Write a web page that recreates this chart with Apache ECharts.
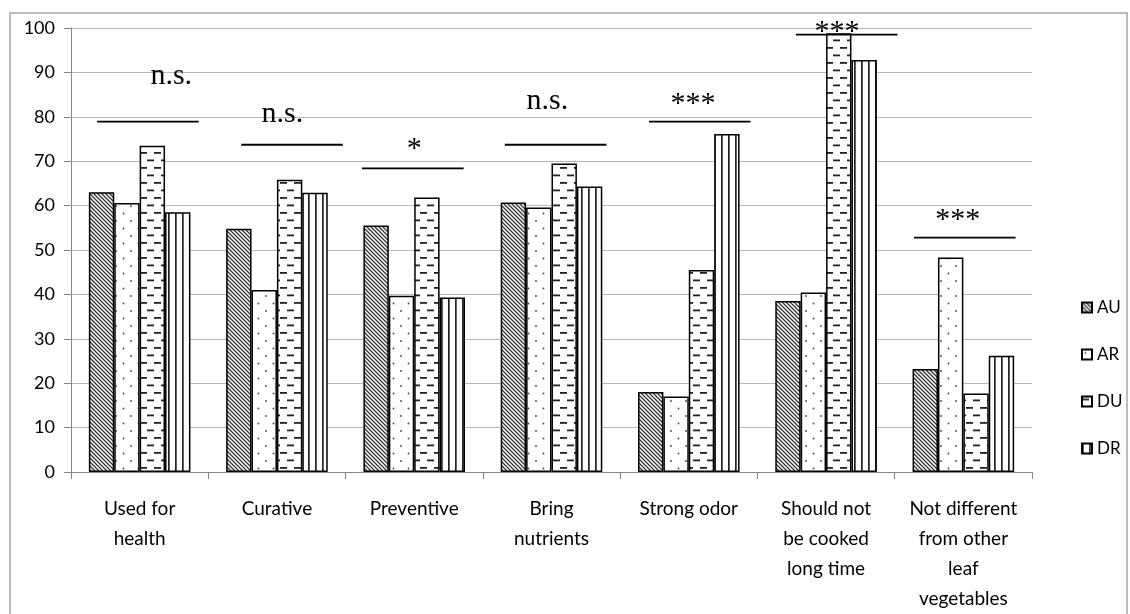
<!DOCTYPE html>
<html>
<head>
<meta charset="utf-8">
<script src="https://cdn.jsdelivr.net/npm/echarts@6/dist/echarts.min.js"></script>
<style>
html,body{margin:0;padding:0;background:#fff;}
#chart{width:1130px;height:614px;}
</style>
</head>
<body>
<div id="chart"></div>
<script>
// ---- data ----
const categories = [
  "Used for\nhealth",
  "Curative",
  "Preventive",
  "Bring\nnutrients",
  "Strong odor",
  "Should not\nbe cooked\nlong time",
  "Not different\nfrom other\nleaf\nvegetables"
];
const seriesNames = ["AU", "AR", "DU", "DR"];
const valuesAU = [63.0, 54.8, 55.5, 60.7, 18.0, 38.5, 23.2];
const valuesAR = [60.6, 41.0, 39.7, 59.6, 17.0, 40.4, 48.3];
const valuesDU = [73.5, 65.8, 61.8, 69.5, 45.5, 98.8, 17.7];
const valuesDR = [58.5, 62.9, 39.3, 64.3, 76.1, 92.8, 26.2];
const yTicks = [0, 10, 20, 30, 40, 50, 60, 70, 80, 90, 100];

// significance annotations (data coordinates: value level, category-axis offset)
const sigLabels = ["n.s.", "n.s.", "*", "n.s.", "***", "***", "***"];
const sigLineLevel = [78.9, 73.7, 68.4, 73.7, 78.9, 98.5, 52.8];
const sigTextLevel = [89.2, 80.6, 72.8, 83.5, 82.9, 99.0, 56.7];
const sigLineCenter = [0.06, 0.11, -0.01, 0.03, 0.08, 0.15, 0.01];
const sigTextCenter = [0.23, 0.04, 0.0, -0.03, 0.03, 0.08, -0.04];

// ---- patterns ----
function makeCanvas(w, h, draw) {
  const c = document.createElement('canvas');
  c.width = w; c.height = h;
  const ctx = c.getContext('2d');
  ctx.fillStyle = '#fff';
  ctx.fillRect(0, 0, w, h);
  draw(ctx);
  return c;
}
const patAU = makeCanvas(4, 4, ctx => {
  ctx.strokeStyle = '#333';
  ctx.lineWidth = 1.3;
  ctx.beginPath();
  ctx.moveTo(-1, -1); ctx.lineTo(5, 5);
  ctx.moveTo(-1, 3); ctx.lineTo(1, 5);
  ctx.moveTo(3, -1); ctx.lineTo(5, 1);
  ctx.stroke();
});
const patAR = makeCanvas(15, 15, ctx => {
  ctx.fillStyle = '#444';
  ctx.beginPath(); ctx.arc(3.5, 3.5, 0.9, 0, Math.PI * 2); ctx.fill();
  ctx.beginPath(); ctx.arc(11, 11, 0.9, 0, Math.PI * 2); ctx.fill();
});
const patDU = makeCanvas(14, 15, ctx => {
  ctx.fillStyle = '#222';
  ctx.fillRect(0, 2, 7, 1.8);
  ctx.fillRect(7, 9.5, 7, 1.8);
});
const patDR = makeCanvas(7, 4, ctx => {
  ctx.fillStyle = '#222';
  ctx.fillRect(0, 0, 1.7, 4);
});
const patterns = [patAU, patAR, patDU, patDR];
const allValues = [valuesAU, valuesAR, valuesDU, valuesDR];

const chart = echarts.init(document.getElementById('chart'), null, { renderer: 'canvas' });

const barSeries = seriesNames.map((name, k) => ({
  name: name,
  type: 'bar',
  data: allValues[k],
  barGap: '0%',
  barCategoryGap: '26%',
  itemStyle: {
    color: { image: patterns[k], repeat: 'repeat' },
    borderColor: '#000',
    borderWidth: 1.5
  },
  emphasis: { disabled: true },
  animation: false
}));

const sigSeries = {
  type: 'custom',
  name: 'sig',
  animation: false,
  silent: true,
  clip: false,
  z: 10,
  data: categories.map((c, i) => [i, sigLineLevel[i], sigTextLevel[i], sigLineCenter[i], sigTextCenter[i]]),
  encode: { x: 0, y: 1 },
  renderItem: function (params, api) {
    const i = api.value(0);
    const lineP = api.coord([i, api.value(1)]);
    const textP = api.coord([i, api.value(2)]);
    const w = api.size([1, 0])[0];
    const cx = lineP[0] + api.value(3) * w;
    const half = 0.37 * w;
    return {
      type: 'group',
      children: [
        {
          type: 'line',
          shape: { x1: cx - half, y1: lineP[1], x2: cx + half, y2: lineP[1] },
          style: { stroke: '#000', lineWidth: 1.8 }
        },
        {
          type: 'text',
          style: {
            text: sigLabels[i],
            x: textP[0] + api.value(4) * w,
            y: textP[1],
            align: 'center',
            verticalAlign: 'middle',
            font: '30px "Liberation Serif"',
            fill: '#000'
          }
        }
      ]
    };
  }
};

chart.setOption({
  animation: false,
  backgroundColor: '#fff',
  graphic: [{
    type: 'rect',
    shape: { x: 10, y: 13, width: 1117, height: 700 },
    style: { fill: 'none', stroke: '#a6a6a6', lineWidth: 1.5 },
    silent: true,
    z: -10
  }],
  grid: { left: 71, right: 98, top: 28, bottom: 129, containLabel: false },
  legend: {
    data: seriesNames,
    orient: 'vertical',
    left: 1076,
    top: 294,
    icon: 'rect',
    itemWidth: 10,
    itemHeight: 10,
    itemGap: 30,
    textStyle: { fontFamily: 'Lato', fontSize: 17, color: '#000', lineHeight: 16 },
    selectedMode: false
  },
  xAxis: {
    type: 'category',
    data: categories,
    axisLine: { lineStyle: { color: '#868686', width: 1 } },
    axisTick: { show: true, length: 7, lineStyle: { color: '#868686' } },
    axisLabel: {
      interval: 0,
      margin: 22,
      fontFamily: 'Lato',
      fontSize: 19,
      lineHeight: 30,
      color: '#000'
    }
  },
  yAxis: {
    type: 'value',
    min: yTicks[0],
    max: yTicks[yTicks.length - 1],
    interval: 10,
    axisLine: { show: true, lineStyle: { color: '#868686', width: 1 } },
    axisTick: { show: true, length: 7, lineStyle: { color: '#868686' } },
    splitLine: { show: true, lineStyle: { color: '#b8b8b8', width: 1.2 } },
    axisLabel: {
      margin: 16,
      fontFamily: 'Lato',
      fontSize: 18,
      color: '#000'
    }
  },
  series: barSeries.concat([sigSeries])
});
</script>
</body>
</html>
